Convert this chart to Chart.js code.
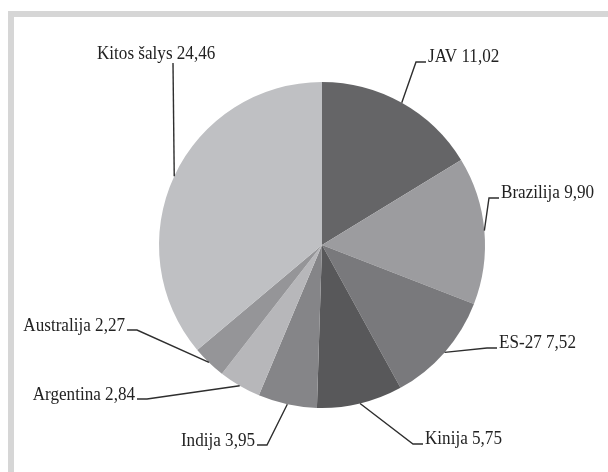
<!DOCTYPE html>
<html>
<head>
<meta charset="utf-8">
<script src="https://cdn.jsdelivr.net/npm/chart.js@4.4.0/dist/chart.umd.min.js"></script>
<style>
    body { margin: 0; background: #fff; }
    #wrap { position: relative; width: 608px; height: 472px; overflow: hidden; }
    #frame {
        position: absolute; left: 8px; top: 11px; right: -10px; bottom: -10px;
        border-top: 6px solid #d6d6d6; border-left: 6px solid #d6d6d6;
        pointer-events: none;
    }
    canvas { position: absolute; left: 0; top: 0; }
</style>
</head>
<body>
<div id="wrap">
    <canvas id="pie" width="608" height="472"></canvas>
    <div id="frame"></div>
</div>
<script>
const countries = ['JAV', 'Brazilija', 'ES-27', 'Kinija', 'Indija', 'Argentina', 'Australija', 'Kitos šalys'];
const values = [11.02, 9.90, 7.52, 5.75, 3.95, 2.84, 2.27, 24.46];
const sliceColors = ['#656567', '#9c9c9f', '#79797c', '#58585a', '#858588', '#b7b7ba', '#959598', '#bfc0c3'];

// elbow point of each leader line, and which side the text sits on
const labelPos = [
    { ex: 416, ey: 62, side: 1 },
    { ex: 489, ey: 198, side: 1 },
    { ex: 487, ey: 348, side: 1 },
    { ex: 413, ey: 444, side: 1 },
    { ex: 267, ey: 445, side: -1 },
    { ex: 147, ey: 399, side: -1 },
    { ex: 137, ey: 330, side: -1 },
    { ex: 173, ey: 63, side: 0 }
];

const leaderLabels = {
    id: 'leaderLabels',
    afterDraw(chart) {
        const ctx = chart.ctx;
        const arcs = chart.getDatasetMeta(0).data;
        ctx.save();
        ctx.strokeStyle = '#2e2e2e';
        ctx.lineWidth = 1.4;
        ctx.fillStyle = '#222';
        ctx.font = "19px 'Liberation Serif'";
        ctx.textBaseline = 'alphabetic';
        arcs.forEach((arc, i) => {
            const p = arc.getProps(['x', 'y', 'startAngle', 'endAngle', 'outerRadius'], true);
            const mid = (p.startAngle + p.endAngle) / 2;
            const sx = p.x + Math.cos(mid) * p.outerRadius;
            const sy = p.y + Math.sin(mid) * p.outerRadius;
            const pos = labelPos[i];
            const text = countries[i] + ' ' + values[i].toFixed(2).replace('.', ',');

            ctx.beginPath();
            ctx.moveTo(sx, sy);
            ctx.lineTo(pos.ex, pos.ey);
            if (pos.side !== 0) {
                ctx.lineTo(pos.ex + pos.side * 10, pos.ey);
            }
            ctx.stroke();

            // the scanned text is a bit narrow, so squeeze it
            const sq = 0.9;
            const w = ctx.measureText(text).width * sq;
            let tx, ty;
            if (pos.side === 1) {
                tx = pos.ex + 12;
                ty = pos.ey;
            } else if (pos.side === -1) {
                tx = pos.ex - 12 - w;
                ty = pos.ey + 1;
            } else {
                tx = 97;
                ty = 59;
            }
            ctx.save();
            ctx.translate(tx, ty);
            ctx.scale(sq, 1);
            ctx.fillText(text, 0, 0);
            ctx.restore();
        });
        ctx.restore();
    }
};

new Chart(document.getElementById('pie'), {
    type: 'pie',
    data: {
        labels: countries,
        datasets: [{
            data: values,
            backgroundColor: sliceColors,
            borderWidth: 0
        }]
    },
    options: {
        responsive: false,
        animation: false,
        layout: {
            padding: { left: 159, right: 123, top: 82, bottom: 64 }
        },
        plugins: {
            legend: { display: false },
            tooltip: { enabled: false }
        }
    },
    plugins: [leaderLabels]
});
</script>
</body>
</html>
